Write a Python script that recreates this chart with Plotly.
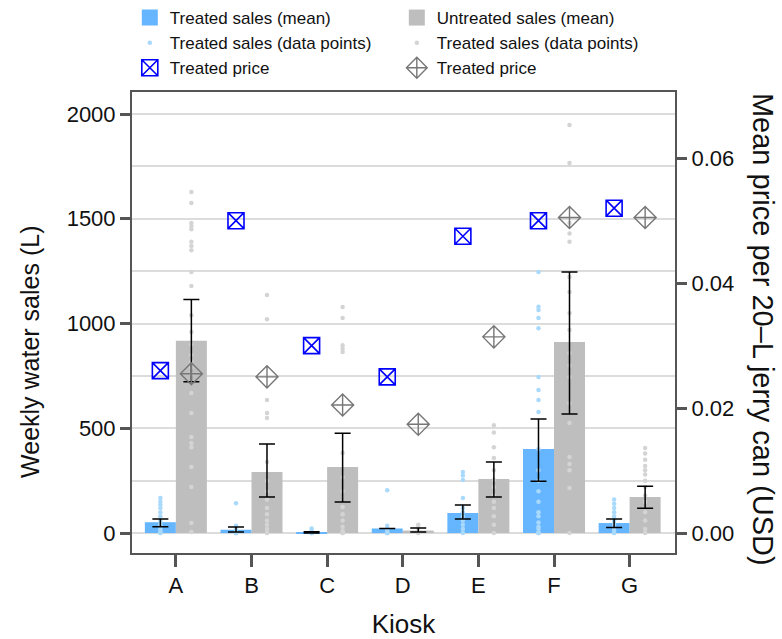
import plotly.graph_objects as go

kiosks = ["A", "B", "C", "D", "E", "F", "G"]

# Mean weekly sales (L) with confidence bounds
treated_mean = [52, 16, 4, 22, 96, 401, 48]
treated_lo = [30, 5, 1, None, 67, 248, 27]
treated_hi = [67, 29, 6, None, 134, 544, 67]

untreated_mean = [918, 291, 315, 12, 258, 912, 172]
untreated_lo = [722, 172, 148, 5, 172, 568, 119]
untreated_hi = [1115, 425, 477, 24, 339, 1246, 224]

# Individual weekly observations (L)
treated_points = {
    "A": [167, 150, 135, 120, 100, 80, 60, 45, 35, 25, 15, 5, 0, 0],
    "B": [143, 35, 20, 10, 5, 0, 0, 0],
    "C": [22, 10, 5, 0, 0, 0],
    "D": [205, 35, 20, 10, 0, 0, 0, 0],
    "E": [291, 275, 253, 167, 120, 100, 80, 60, 40, 20, 0],
    "F": [1246, 1080, 1065, 1026, 978, 745, 683, 635, 578, 400, 300, 250,
          200, 150, 100, 80, 50, 30, 20, 0, 0, 0],
    "G": [160, 140, 120, 100, 80, 60, 45, 30, 15, 0, 0],
}
untreated_points = {
    "A": [1628, 1575, 1480, 1465, 1450, 1390, 1370, 1350, 1246, 1179, 1040,
          960, 900, 850, 820, 790, 760, 716, 668, 573, 458, 430, 410, 315,
          220, 48, 5],
    "B": [1136, 1021, 635, 573, 549, 339, 250, 200, 160, 120, 90, 60, 40, 20, 0, 0],
    "C": [1079, 1026, 897, 880, 864, 382, 267, 200, 124, 90, 60, 30, 10, 0, 0, 0],
    "D": [40, 25, 10, 0, 0],
    "E": [515, 480, 410, 358, 300, 253, 220, 180, 150, 120, 80, 40, 0],
    "F": [1947, 1766, 1480, 1430, 1390, 1222, 1150, 1050, 969, 859, 800, 745,
          620, 525, 363, 330, 300, 215, 0],
    "G": [406, 380, 350, 320, 300, 280, 250, 220, 180, 150, 100, 60, 20, 0],
}

# Mean price per 20-L jerry can (USD)
treated_price = [0.026, 0.050, 0.030, 0.025, 0.0475, 0.050, 0.052]
untreated_price = [0.0255, 0.025, 0.0205, 0.0174, 0.0314, 0.0505, 0.0505]

tick_left = [0, 500, 1000, 1500, 2000]
tick_right = [0.00, 0.02, 0.04, 0.06]

FONT = "Liberation Sans, Arial, sans-serif"
BLUE_BAR = "#66B6FF"
GRAY_BAR = "#BEBEBE"
BLUE_DOT = "#A9D9FB"
GRAY_DOT = "#D4D4D4"
FRAME = "#555555"
GRID = "#DCDCDC"
TXT = "#111111"

OFF = 0.205
WIDTH = 0.41
idx = list(range(len(kiosks)))
xt = [i - OFF for i in idx]
xu = [i + OFF for i in idx]


def err_up(mean, hi):
    return [None if h is None else h - m for m, h in zip(mean, hi)]


def err_down(mean, lo):
    return [None if l is None else m - l for m, l in zip(mean, lo)]


fig = go.Figure()

# Bars (legend shown through square swatches below)
fig.add_trace(go.Bar(
    x=xt, y=treated_mean, width=WIDTH, showlegend=False,
    marker=dict(color=BLUE_BAR, line=dict(width=0)),
))
fig.add_trace(go.Bar(
    x=xu, y=untreated_mean, width=WIDTH, showlegend=False,
    marker=dict(color=GRAY_BAR, line=dict(width=0)),
))

px_t, py_t, px_u, py_u = [], [], [], []
for i, k in enumerate(kiosks):
    for v in treated_points[k]:
        px_t.append(xt[i]); py_t.append(v)
    for v in untreated_points[k]:
        px_u.append(xu[i]); py_u.append(v)

fig.add_trace(go.Scatter(
    x=px_t, y=py_t, mode="markers", name="Treated sales (data points)",
    legendrank=3,
    marker=dict(color=BLUE_DOT, size=4.5, line=dict(width=0)),
))
fig.add_trace(go.Scatter(
    x=px_u, y=py_u, mode="markers", name="Treated sales (data points)",
    legendrank=4,
    marker=dict(color=GRAY_DOT, size=4.5, line=dict(width=0)),
))

# Confidence intervals drawn above the observation dots
for xs, mean, lo, hi in [(xt, treated_mean, treated_lo, treated_hi),
                         (xu, untreated_mean, untreated_lo, untreated_hi)]:
    fig.add_trace(go.Scatter(
        x=xs, y=mean, mode="markers", showlegend=False, hoverinfo="skip",
        marker=dict(size=1, opacity=0),
        error_y=dict(type="data", symmetric=False,
                     array=err_up(mean, hi), arrayminus=err_down(mean, lo),
                     color="black", thickness=1.5, width=8),
    ))

fig.add_trace(go.Scatter(
    x=xt, y=treated_price, mode="markers", name="Treated price", yaxis="y2",
    legendrank=5,
    marker=dict(symbol="square-x-open", size=16, color="#0000FF",
                line=dict(width=1.6, color="#0000FF")),
))
fig.add_trace(go.Scatter(
    x=xu, y=untreated_price, mode="markers", name="Treated price", yaxis="y2",
    legendrank=6,
    marker=dict(symbol="diamond-cross-open", size=17, color="#777777",
                line=dict(width=1.4, color="#777777")),
))

# Legend swatches for the mean bars
for name, color, rank in [("Treated sales (mean)", BLUE_BAR, 1),
                          ("Untreated sales (mean)", GRAY_BAR, 2)]:
    fig.add_trace(go.Scatter(
        x=[None], y=[None], mode="markers", name=name, legendrank=rank,
        marker=dict(symbol="square", size=18, color=color, line=dict(width=0)),
    ))

fig.update_layout(
    width=782, height=639,
    margin=dict(l=132, r=107, t=92, b=86, autoexpand=False),
    plot_bgcolor="white", paper_bgcolor="white",
    font=dict(family=FONT, size=17, color=TXT),
    barmode="overlay",
    showlegend=True,
    legend=dict(
        orientation="h", x=0.166, y=1.0, xanchor="left", yanchor="top",
        yref="container", xref="container",
        entrywidth=222, entrywidthmode="pixels",
        font=dict(family=FONT, size=17, color=TXT),
        bgcolor="rgba(0,0,0,0)", itemsizing="trace", tracegroupgap=0,
    ),
    xaxis=dict(
        range=[-0.58, 6.6], tickvals=idx, ticktext=kiosks,
        showgrid=False, zeroline=False,
        showline=True, linecolor=FRAME, linewidth=2, mirror=True,
        ticks="outside", ticklen=12, tickwidth=3, tickcolor=FRAME,
        tickfont=dict(size=22, color=TXT),
        title=dict(text="Kiosk", font=dict(size=26, color=TXT), standoff=18),
    ),
    yaxis=dict(
        range=[-95, 2105], tickvals=tick_left,
        showgrid=True, gridcolor=GRID, gridwidth=1.5,
        minor=dict(dtick=250, tick0=0, showgrid=True, gridcolor=GRID, gridwidth=1.5),
        zeroline=False,
        showline=True, linecolor=FRAME, linewidth=2,
        ticks="outside", ticklen=10, tickwidth=3, tickcolor=FRAME,
        tickfont=dict(size=22, color=TXT),
    ),
    yaxis2=dict(
        overlaying="y", side="right",
        range=[-0.0032, 0.0706], tickvals=tick_right, tickformat=".2f",
        showgrid=False, zeroline=False,
        showline=True, linecolor=FRAME, linewidth=2,
        ticks="outside", ticklen=10, tickwidth=3, tickcolor=FRAME,
        tickfont=dict(size=22, color=TXT),
    ),
    annotations=[
        dict(text="Weekly water sales (L)", textangle=-90,
             xref="paper", yref="paper", x=-0.188, y=0.436,
             xanchor="center", yanchor="middle", showarrow=False,
             font=dict(family=FONT, size=25, color=TXT)),
        dict(text="Mean price per 20\u2013L jerry can (USD)", textangle=90,
             xref="paper", yref="paper", x=1.162, y=0.484,
             xanchor="center", yanchor="middle", showarrow=False,
             font=dict(family=FONT, size=29, color=TXT)),
    ],
)

fig.write_html("out.html")
